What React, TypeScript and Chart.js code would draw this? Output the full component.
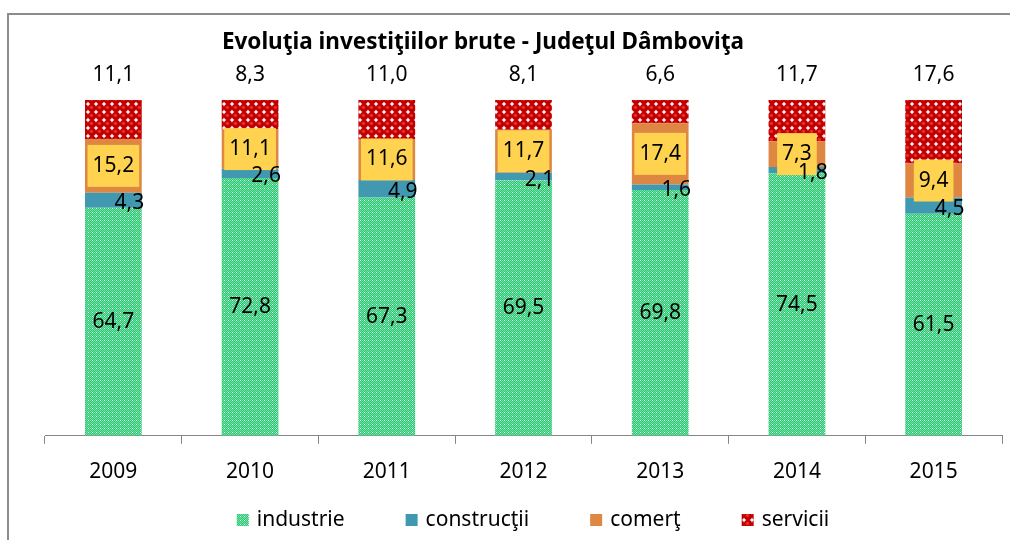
import React, { useEffect, useRef } from "react";
import { Chart, registerables } from "chart.js";

Chart.register(...registerables);

const chartTitle = "Evoluţia investiţiilor brute - Judeţul Dâmboviţa";
const categories = ["2009", "2010", "2011", "2012", "2013", "2014", "2015"];
const seriesNames = ["industrie", "construcţii", "comerţ", "servicii"];
const industrie = [64.7, 72.8, 67.3, 69.5, 69.8, 74.5, 61.5];
const constructii = [4.3, 2.6, 4.9, 2.1, 1.6, 1.8, 4.5];
const comert = [15.2, 11.1, 11.6, 11.7, 17.4, 7.3, 9.4];
const servicii = [11.1, 8.3, 11.0, 8.1, 6.6, 11.7, 17.6];

const FONT = '"Noto Sans", "DejaVu Sans", sans-serif';
const fmt = (v: number) => v.toFixed(1).replace(".", ",");

function makeGreenPattern(ctx: CanvasRenderingContext2D) {
  const c = document.createElement("canvas");
  c.width = 4;
  c.height = 4;
  const g = c.getContext("2d")!;
  for (let y = 0; y < 4; y++) {
    for (let x = 0; x < 4; x++) {
      g.fillStyle = (x + y) % 2 === 0 ? "#78E2AA" : "#2CC672";
      g.fillRect(x, y, 1, 1);
    }
  }
  g.fillStyle = "#E6FFF0";
  g.fillRect(0, 0, 1, 1);
  return ctx.createPattern(c, "repeat")!;
}

function makeRedPattern(ctx: CanvasRenderingContext2D) {
  const c = document.createElement("canvas");
  c.width = 8;
  c.height = 8;
  const g = c.getContext("2d")!;
  g.fillStyle = "#F2F8F8";
  g.fillRect(0, 0, 8, 8);
  g.fillStyle = "#C00000";
  g.beginPath();
  g.arc(4, 4, 4.3, 0, Math.PI * 2);
  g.fill();
  g.fillStyle = "#F02828";
  g.beginPath();
  g.arc(3.4, 3.4, 1.7, 0, Math.PI * 2);
  g.fill();
  return ctx.createPattern(c, "repeat")!;
}

const rawValues = [industrie, constructii, comert, servicii];
const totals = categories.map(
  (_, i) => industrie[i] + constructii[i] + comert[i] + servicii[i]
);
const toPct = (arr: number[]) => arr.map((v, i) => (v / totals[i]) * 100);

const labelPlugin = {
  id: "valueLabels",
  afterDatasetsDraw(chart: any) {
    const ctx = chart.ctx as CanvasRenderingContext2D;
    ctx.save();
    ctx.font = `21px ${FONT}`;
    ctx.textAlign = "center";
    ctx.textBaseline = "middle";
    ctx.fillStyle = "#000000";
    const order = [0, 2, 1, 3];
    order.forEach((di) => {
      const meta = chart.getDatasetMeta(di);
      const raw = rawValues[di];
      meta.data.forEach((el: any, i: number) => {
        const txt = fmt(raw[i]);
        const x = el.x;
        const top = el.y;
        const bottom = el.base;
        const mid = (top + bottom) / 2;
        if (di === 0) {
          ctx.fillStyle = "#000";
          ctx.fillText(txt, x, mid);
        } else if (di === 1) {
          ctx.fillStyle = "#000";
          ctx.fillText(txt, x + 16, mid + 3);
        } else if (di === 2) {
          const w = ctx.measureText(txt).width + 10;
          const h = 42;
          ctx.fillStyle = "#FFD350";
          ctx.fillRect(x - w / 2, mid - h / 2, w, h);
          ctx.fillStyle = "#000";
          ctx.fillText(txt, x, mid);
        } else {
          ctx.fillStyle = "#000";
          ctx.fillText(txt, x, top - 25);
        }
      });
    });
    ctx.restore();
  },
};

const titleLegendPlugin = {
  id: "titleLegend",
  afterDraw(chart: any) {
    const ctx = chart.ctx as CanvasRenderingContext2D;
    ctx.save();
    ctx.fillStyle = "#000";
    ctx.font = `bold 22.5px ${FONT}`;
    ctx.textAlign = "center";
    ctx.textBaseline = "middle";
    ctx.fillText(chartTitle, 483, 43);

    // legend
    ctx.font = `21px ${FONT}`;
    ctx.textAlign = "left";
    const box = 12;
    const gapText = 8;
    const gapItem = 61;
    const widths = chart.data.datasets.map(
      (ds: any) => box + gapText + ctx.measureText(ds.label).width
    );
    const total =
      widths.reduce((a: number, b: number) => a + b, 0) +
      gapItem * (widths.length - 1);
    let x = 533 - total / 2;
    const y = 520;
    chart.data.datasets.forEach((ds: any, i: number) => {
      ctx.fillStyle = ds.backgroundColor;
      ctx.fillRect(x, y - box / 2, box, box);
      ctx.fillStyle = "#000";
      ctx.fillText(ds.label, x + box + gapText, y);
      x += widths[i] + gapItem;
    });
    ctx.restore();
  },
};

export default function App() {
  const ref = useRef<HTMLCanvasElement | null>(null);

  useEffect(() => {
    const canvas = ref.current!;
    const ctx = canvas.getContext("2d")!;
    const colors = [
      makeGreenPattern(ctx),
      "#4198B1",
      "#DE8742",
      makeRedPattern(ctx),
    ];
    const chart = new Chart(canvas, {
      type: "bar",
      data: {
        labels: categories,
        datasets: seriesNames.map((name, i) => ({
          label: name,
          data: toPct(rawValues[i]),
          backgroundColor: colors[i] as any,
          borderWidth: 0,
          barPercentage: 0.415,
          categoryPercentage: 1,
        })),
      },
      options: {
        animation: false,
        responsive: false,
        layout: { padding: { left: 45, right: 8, top: 100, bottom: 39 } },
        plugins: {
          legend: { display: false },
          title: { display: false },
          tooltip: { enabled: false },
        },
        scales: {
          x: {
            stacked: true,
            offset: true,
            grid: {
              offset: true,
              drawOnChartArea: false,
              drawTicks: true,
              tickLength: 8,
              color: "#868686",
            },
            border: { display: true, color: "#868686", width: 1 },
            ticks: {
              color: "#000",
              padding: 16,
              font: { family: FONT, size: 21 },
            },
          },
          y: {
            stacked: true,
            display: false,
            min: 0,
            max: 100,
          },
        },
      },
      plugins: [labelPlugin, titleLegendPlugin],
    });
    return () => chart.destroy();
  }, []);

  return (
    <div
      style={{
        position: "fixed",
        left: 0,
        top: 0,
        width: 1010,
        height: 540,
        overflow: "hidden",
        background: "#fff",
      }}
    >
      <div
        style={{
          position: "absolute",
          left: 7,
          top: 13,
          width: 1020,
          height: 560,
          border: "2px solid #8C8C8C",
        }}
      />
      <canvas
        ref={ref}
        width={1010}
        height={540}
        style={{ position: "absolute", left: 0, top: 0 }}
      />
    </div>
  );
}
